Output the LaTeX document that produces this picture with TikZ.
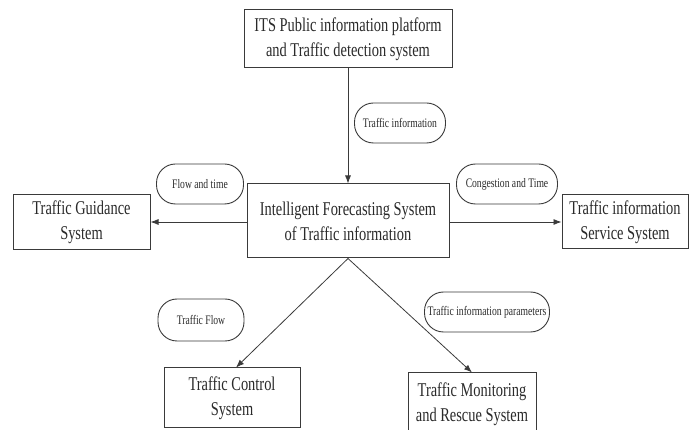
\documentclass[tikz,border=0pt]{standalone}
\usepackage{fontspec}
\setmainfont[FakeStretch=0.74]{Liberation Serif}
\usetikzlibrary{arrows.meta}
\definecolor{ln}{HTML}{3A3A3A}
\definecolor{tx}{HTML}{2A2A2A}
\tikzset{
  sysbox/.style={draw=ln, line width=1pt, fill=white, text=tx, align=center,
    inner sep=0pt, font=\fontsize{19.5}{25}\selectfont},
  tag/.style={draw=ln, line width=0.9pt, rounded corners=19pt, text=tx, align=center,
    inner sep=0pt, minimum height=40pt, font=\fontsize{13}{15}\selectfont},
  flow/.style={draw=ln, line width=0.8pt, -{Latex[length=8pt,width=6pt]}}
}
\begin{document}
\begin{tikzpicture}[x=1pt,y=-1pt]
\useasboundingbox (0,0) rectangle (689,430);
\clip (0,0) rectangle (689,430);
\node[sysbox, minimum width=208pt, minimum height=58pt] (its) at (348,39)
  {ITS Public information platform\\and Traffic detection system};
\node[sysbox, minimum width=202pt, minimum height=74pt] (ifs) at (348,221)
  {Intelligent Forecasting System\\of Traffic information};
\node[sysbox, minimum width=137pt, minimum height=55pt] (tgs) at (81.5,222)
  {Traffic Guidance\\System};
\node[sysbox, minimum width=126pt, minimum height=54pt] (tis) at (625,222)
  {Traffic information\\Service System};
\node[sysbox, minimum width=136pt, minimum height=60pt] (tcs) at (232,398)
  {Traffic Control\\System};
\node[sysbox, minimum width=128pt, minimum height=62pt] (tmr) at (472,404)
  {Traffic Monitoring\\and Rescue System};

\node[tag, minimum width=91pt] (l1) at (400,123) {Traffic information};
\node[tag, minimum width=87pt] (l2) at (200,184) {Flow and time};
\node[tag, minimum width=101pt] (l3) at (507,184) {Congestion and Time};
\node[tag, minimum width=86pt, minimum height=42pt] (l4) at (201,320) {Traffic Flow};
\node[tag, minimum width=125pt] (l5) at (487,312) {Traffic information parameters};

\draw[flow] (its.south) -- (ifs.north);
\draw[flow] (ifs.west |- tgs.east) -- (tgs.east);
\draw[flow] (ifs.east |- tis.west) -- (tis.west);
\draw[flow] (ifs.south) -- ([xshift=4pt]tcs.north);
\draw[flow] (ifs.south) -- (tmr.north);
\end{tikzpicture}
\end{document}
